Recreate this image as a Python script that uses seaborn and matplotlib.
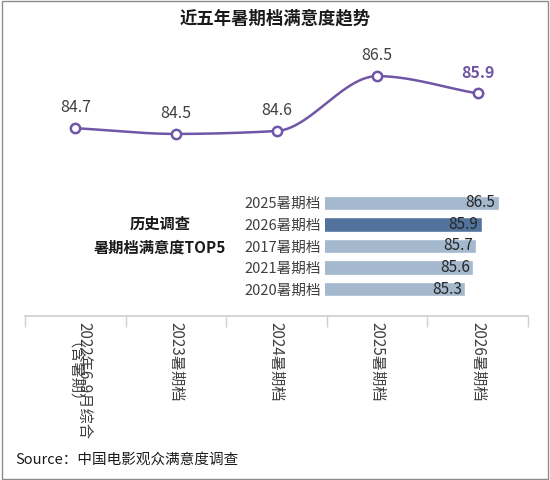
import matplotlib.pyplot as plt
import seaborn as sns
import numpy as np

sns.set_theme(style='white')
plt.rcParams['font.family'] = ['Noto Sans CJK SC', 'DejaVu Sans']

# data
periods = ['2022年6-9月综合\n（含暑期）', '2023暑期档', '2024暑期档', '2025暑期档', '2026暑期档']
scores = [84.7, 84.5, 84.6, 86.5, 85.9]
top5_names = ['2025暑期档', '2026暑期档', '2017暑期档', '2021暑期档', '2020暑期档']
top5_scores = [86.5, 85.9, 85.7, 85.6, 85.3]

purple = '#7056a6'
W, H = 550, 480
fig = plt.figure(figsize=(5.5, 4.8), dpi=100)
fig.patches.append(plt.Rectangle((0.003, 0.003), 0.994, 0.994, transform=fig.transFigure,
                                 fill=False, edgecolor='#8c8c8c', lw=1))

# line chart
ax = fig.add_axes([25 / W, 1 - 316 / H, 503 / W, 276 / H])
x = np.arange(len(periods))
sns.lineplot(x=x, y=scores, ax=ax, color=purple, lw=1.8)
# smooth-ish curve through points
from matplotlib.path import Path
ax.lines[0].remove()
xs = np.linspace(0, 4, 200)
# monotone cubic (pchip) interpolation
def pchip(xk, yk, xq):
    xk, yk = np.asarray(xk, float), np.asarray(yk, float)
    h = np.diff(xk); d = np.diff(yk) / h
    m = np.zeros_like(yk)
    for i in range(1, len(yk) - 1):
        m[i] = 0 if d[i-1] * d[i] <= 0 else 2 / (1 / d[i-1] + 1 / d[i])
    m[0], m[-1] = d[0], d[-1]
    out = []
    for q in xq:
        i = min(int(np.searchsorted(xk, q, side='right') - 1), len(xk) - 2)
        t = (q - xk[i]) / h[i]
        h00 = 2*t**3 - 3*t**2 + 1; h10 = t**3 - 2*t**2 + t
        h01 = -2*t**3 + 3*t**2; h11 = t**3 - t**2
        out.append(h00*yk[i] + h10*h[i]*m[i] + h01*yk[i+1] + h11*h[i]*m[i+1])
    return np.array(out)
ax.plot(xs, pchip(x, scores, xs), color=purple, lw=1.8, zorder=2)
ax.scatter(x, scores, s=45, facecolor='white', edgecolor=purple, linewidth=1.8, zorder=3)
for i, v in enumerate(scores):
    last = i == len(scores) - 1
    ax.text(i, v + 0.42, f'{v}', ha='center', va='bottom', fontsize=11.5,
            color=purple if last else '#404040', fontweight='bold' if last else 'normal')
ax.set_xlim(-0.5, 4.5)
ax.set_ylim(78.2, 87.75)
ax.set_yticks([])
ax.set_xticks(x)
ax.set_xticklabels(periods, rotation=270, fontsize=11, color='#404040', va='top', ha='center',
                   linespacing=1.1)
ax.set_xticks(np.arange(-0.5, 5, 1), minor=True)
ax.tick_params(axis='x', which='major', length=0, pad=4)
ax.tick_params(axis='x', which='minor', length=8, color='#d0d0d0', direction='out', bottom=True)
for s in ['top', 'left', 'right']:
    ax.spines[s].set_visible(False)
ax.spines['bottom'].set_color('#d0d0d0')
ax.patch.set_alpha(0)

# top5 bar chart
bx = fig.add_axes([325 / W, 1 - 300 / H, 203 / W, 108 / H])
colors = ['#4472a8' if n == '2026暑期档' else '#9db7d5' for n in top5_names]
sns.barplot(x=top5_scores, y=top5_names, hue=top5_names, palette=colors, legend=False,
            ax=bx, width=0.66, orient='h')
for i, v in enumerate(top5_scores):
    bx.text(v - 0.12, i, f'{v}', ha='right', va='center', fontsize=11, color='#262626')
bx.set_xlim(80.3, 87.55)
bx.set_xticks([])
bx.set_xlabel('')
bx.set_ylabel('')
bx.tick_params(axis='y', length=0, pad=3, labelsize=10.5, labelcolor='#404040')
sns.despine(ax=bx, left=True, bottom=True)
bx.patch.set_alpha(0)

fig.text(160 / W, 1 - 236 / H, '历史调查\n暑期档满意度TOP5', ha='center', va='center',
         fontsize=11, fontweight='bold', color='#1a1a1a', linespacing=1.6)
fig.text(0.5, 1 - 18 / H, '近五年暑期档满意度趋势', ha='center', va='center',
         fontsize=12.5, fontweight='bold', color='#1a1a1a')
fig.text(15 / W, 1 - 460 / H, 'Source：中国电影观众满意度调查', ha='left', va='center',
         fontsize=10.5, color='#1a1a1a')

fig.savefig('out.png', dpi=100)
